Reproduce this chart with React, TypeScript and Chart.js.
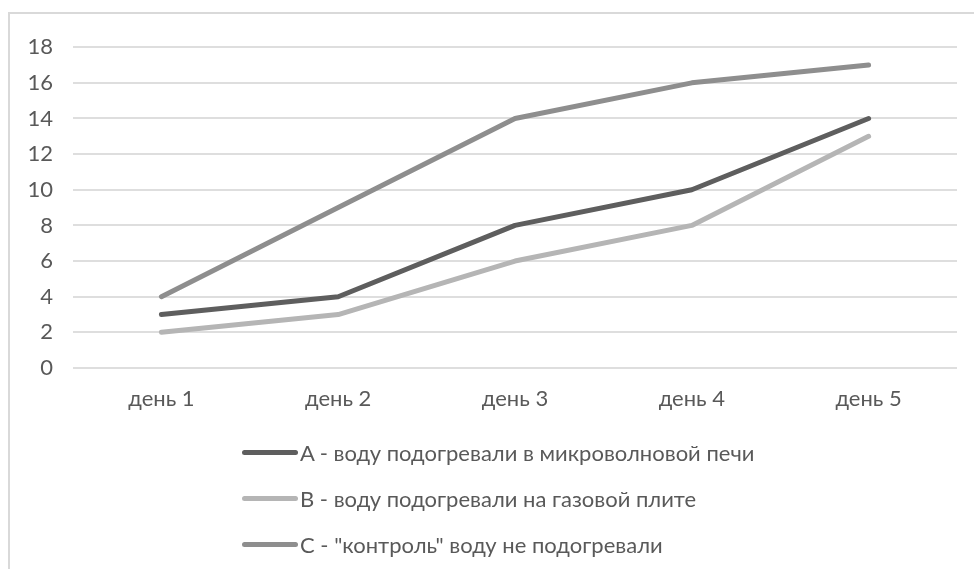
import React, { useEffect, useRef } from "react";
import { Chart, registerables } from "chart.js";

Chart.register(...registerables);

const categories = ["день 1", "день 2", "день 3", "день 4", "день 5"];
const seriesA = [3, 4, 8, 10, 14];
const seriesB = [2, 3, 6, 8, 13];
const seriesC = [4, 9, 14, 16, 17];
const seriesNames = [
  "A - воду подогревали в микроволновой печи",
  "B - воду подогревали на газовой плите",
  "C - \"контроль\" воду не подогревали",
];
const seriesColors = ["#5e5e5e", "#b5b5b5", "#8e8e8e"];
const yMin = 0;
const yMax = 18;
const yStep = 2;

const FONT = "Lato, 'Open Sans', sans-serif";
const TEXT = "#595959";

export default function App() {
  const ref = useRef<HTMLCanvasElement | null>(null);

  useEffect(() => {
    if (!ref.current) return;
    const values = [seriesA, seriesB, seriesC];
    const chart = new Chart(ref.current, {
      type: "line",
      data: {
        labels: categories,
        datasets: values.map((v, i) => ({
          label: seriesNames[i],
          data: v,
          borderColor: seriesColors[i],
          backgroundColor: seriesColors[i],
          borderWidth: 5,
          borderCapStyle: "round",
          borderJoinStyle: "round",
          pointRadius: 0,
          pointHoverRadius: 0,
          tension: 0,
          fill: false,
        })),
      },
      options: {
        responsive: false,
        animation: false,
        layout: { padding: { top: 28, right: 17, left: 0, bottom: 0 } },
        plugins: {
          legend: { display: false },
          tooltip: { enabled: false },
        },
        scales: {
          x: {
            offset: true,
            grid: { display: false, drawTicks: false },
            border: { display: false },
            ticks: {
              color: TEXT,
              font: { family: FONT, size: 22 },
              padding: 18,
              maxRotation: 0,
            },
            afterFit: (s: any) => {
              s.height = 66;
            },
          },
          y: {
            min: yMin,
            max: yMax,
            grid: { color: "#dedede", lineWidth: 2, drawTicks: false },
            border: { display: false },
            ticks: {
              stepSize: yStep,
              color: TEXT,
              font: { family: FONT, size: 22 },
              padding: 20,
            },
            afterFit: (s: any) => {
              s.width = 63;
            },
          },
        },
      },
    });
    return () => chart.destroy();
  }, []);

  return (
    <div
      style={{
        position: "fixed",
        left: 8,
        top: 12,
        right: 0,
        bottom: 0,
        borderLeft: "2px solid #d9d9d9",
        borderTop: "2px solid #d9d9d9",
        background: "#fff",
        fontFamily: FONT,
      }}
    >
      <canvas
        ref={ref}
        width={964}
        height={420}
        style={{ position: "absolute", left: 0, top: 0, display: "block" }}
      />
      <div style={{ position: "absolute", left: 232, top: 415 }}>
        {seriesNames.map((name, i) => (
          <div
            key={name}
            style={{
              height: 46,
              display: "flex",
              alignItems: "center",
              whiteSpace: "nowrap",
              color: TEXT,
              fontSize: 22,
            }}
          >
            <span
              style={{
                display: "inline-block",
                width: 56,
                height: 5,
                borderRadius: 3,
                background: seriesColors[i],
                marginRight: 2,
              }}
            />
            <span>{name}</span>
          </div>
        ))}
      </div>
    </div>
  );
}
